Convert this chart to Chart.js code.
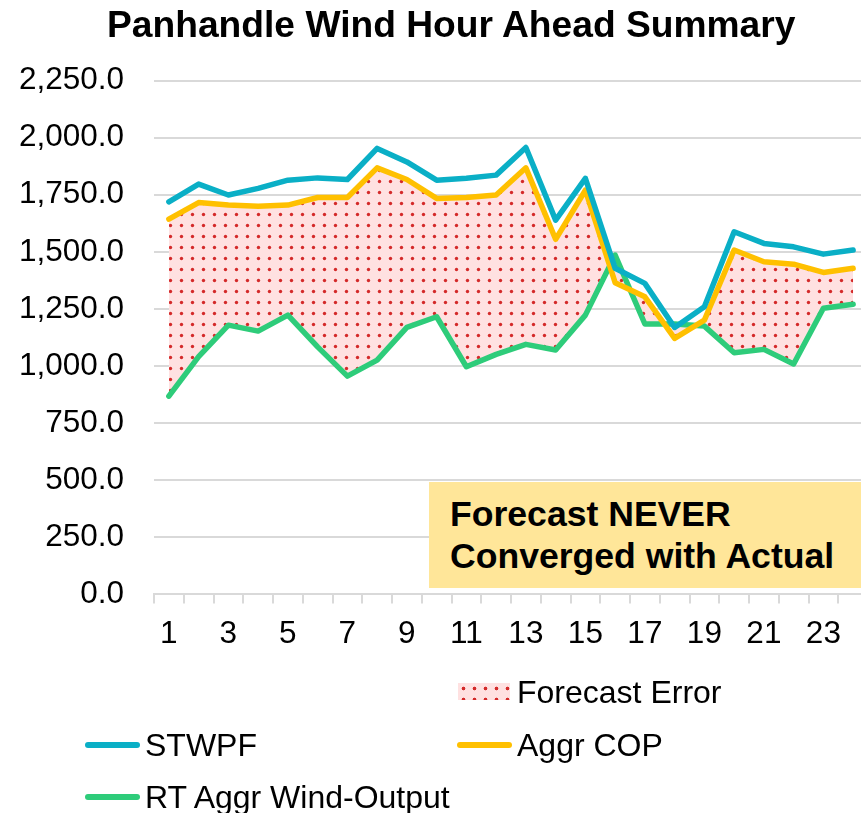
<!DOCTYPE html>
<html lang="en">
<head>
    <meta charset="UTF-8">
    <title>Panhandle Wind Hour Ahead Summary</title>
    <script src="https://cdn.jsdelivr.net/npm/chart.js"></script>
    <style>
        body {
            margin: 0;
            background: white;
            overflow: hidden;
            font-family: "Liberation Sans", Arial, sans-serif;
        }
        .wrap {
            position: relative;
            width: 861px;
            height: 813px;
            overflow: hidden;
        }
        #chart {
            position: absolute;
            left: 0;
            top: 0;
        }
        .title {
            position: absolute;
            left: 107px;
            top: 6px;
            font-size: 37.2px;
            line-height: 36px;
            font-weight: bold;
            white-space: nowrap;
        }
        .note {
            position: absolute;
            left: 429px;
            top: 482px;
            width: 411px;
            height: 94px;
            padding: 12px 0 0 21px;
            background: #ffe699;
            font-size: 35.6px;
            line-height: 41.5px;
            font-weight: bold;
            white-space: nowrap;
        }
        .leg {
            position: absolute;
            font-size: 32px;
            line-height: 36px;
            white-space: nowrap;
        }
        .leg .line {
            position: absolute;
            left: -60px;
            top: 15px;
            width: 55px;
            height: 6px;
            border-radius: 3px;
        }
        .leg .swatch {
            position: absolute;
            left: -59px;
            top: 9px;
            width: 52px;
            height: 17px;
            background-color: #ffe1e1;
            background-image: radial-gradient(circle, #d42a2a 1.5px, transparent 2.2px);
            background-size: 11px 11px;
        }
    </style>
</head>
<body>
    <div class="wrap">
        <canvas id="chart" width="870" height="813"></canvas>
        <div class="title">Panhandle Wind Hour Ahead Summary</div>
        <div class="note">Forecast NEVER<br>Converged with Actual</div>
        <div class="leg" style="left:517px; top:674px;"><span class="swatch"></span>Forecast Error</div>
        <div class="leg" style="left:145px; top:727px;"><span class="line" style="background:#0aafc6"></span>STWPF</div>
        <div class="leg" style="left:517px; top:727px;"><span class="line" style="background:#ffc000"></span>Aggr COP</div>
        <div class="leg" style="left:145px; top:779px;"><span class="line" style="background:#2ecc7a"></span>RT Aggr Wind-Output</div>
    </div>

    <script>
        const hours = ['1', '2', '3', '4', '5', '6', '7', '8', '9', '10', '11', '12',
            '13', '14', '15', '16', '17', '18', '19', '20', '21', '22', '23', '24'];
        const stwpf = [1719, 1797, 1749, 1778, 1814, 1824, 1817, 1953, 1894, 1814, 1822, 1836,
            1957, 1639, 1822, 1428, 1362, 1169, 1260, 1588, 1537, 1522, 1490, 1508];
        const aggrCop = [1643, 1716, 1705, 1700, 1705, 1738, 1738, 1868, 1817, 1734, 1738, 1749,
            1868, 1555, 1770, 1365, 1303, 1121, 1201, 1508, 1457, 1446, 1410, 1428];
        const rtAggr = [868, 1041, 1179, 1153, 1223, 1084, 956, 1026, 1169, 1216, 997, 1051,
            1095, 1070, 1223, 1486, 1184, 1184, 1175, 1058, 1073, 1009, 1253, 1271];
        const yTicks = [0, 250, 500, 750, 1000, 1250, 1500, 1750, 2000, 2250];

        // dotted pink fill for the forecast error band
        const tile = document.createElement('canvas');
        tile.width = 11;
        tile.height = 11;
        const tctx = tile.getContext('2d');
        tctx.fillStyle = '#ffe1e1';
        tctx.fillRect(0, 0, 11, 11);
        tctx.fillStyle = '#d42a2a';
        tctx.beginPath();
        tctx.arc(5.5, 5.5, 1.7, 0, Math.PI * 2);
        tctx.fill();
        const dots = document.getElementById('chart').getContext('2d').createPattern(tile, 'repeat');

        const lineStyle = {
            borderWidth: 5.5,
            pointRadius: 0,
            tension: 0,
            fill: false,
            borderJoinStyle: 'round',
            borderCapStyle: 'round'
        };

        const font = { family: '"Liberation Sans", Arial, sans-serif', size: 31.5 };

        new Chart(document.getElementById('chart'), {
            type: 'line',
            data: {
                labels: hours,
                datasets: [
                    { label: 'STWPF', data: stwpf, borderColor: '#0aafc6', ...lineStyle },
                    { label: 'Aggr COP', data: aggrCop, borderColor: '#ffc000', ...lineStyle },
                    { label: 'RT Aggr Wind-Output', data: rtAggr, borderColor: '#2ecc7a', ...lineStyle },
                    {
                        label: 'Forecast Error', data: aggrCop, borderWidth: 0, pointRadius: 0,
                        tension: 0, backgroundColor: dots, fill: { target: 2 }
                    }
                ]
            },
            options: {
                responsive: false,
                animation: false,
                devicePixelRatio: 1,
                layout: { padding: { top: 80.6, left: 0, right: 2, bottom: 0 } },
                plugins: {
                    legend: { display: false },
                    tooltip: { enabled: false },
                    title: { display: false }
                },
                scales: {
                    x: {
                        offset: true,
                        afterFit: function (s) { s.height = 813 - 594.4; },
                        grid: {
                            offset: true,
                            drawOnChartArea: false,
                            drawTicks: true,
                            tickLength: 9,
                            color: '#d9d9d9',
                            lineWidth: 2
                        },
                        border: { display: true, color: '#d9d9d9', width: 2 },
                        ticks: {
                            autoSkip: false,
                            maxRotation: 0,
                            padding: 12,
                            color: '#000',
                            font: font,
                            callback: function (v, i) { return i % 2 === 0 ? hours[i] : ''; }
                        }
                    },
                    y: {
                        min: yTicks[0],
                        max: yTicks[yTicks.length - 1],
                        afterFit: function (s) { s.width = 154; },
                        afterBuildTicks: function (s) { s.ticks = yTicks.map(v => ({ value: v })); },
                        grid: { color: '#d9d9d9', lineWidth: 2, drawTicks: false },
                        border: { display: false },
                        ticks: {
                            padding: 30,
                            color: '#000',
                            font: font,
                            callback: function (v) {
                                return v.toLocaleString('en-US', { minimumFractionDigits: 1, maximumFractionDigits: 1 });
                            }
                        }
                    }
                }
            }
        });
    </script>
</body>
</html>
